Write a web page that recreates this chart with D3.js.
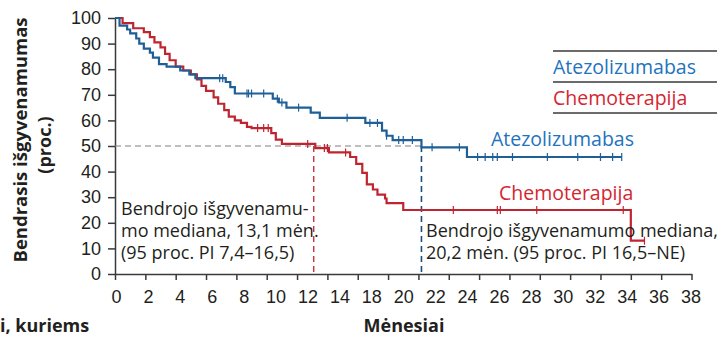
<!DOCTYPE html>
<html>
<head>
<meta charset="utf-8">
<script src="https://cdn.jsdelivr.net/npm/d3@7"></script>
<style>
	body{margin:0;background:#fff;}
	svg{display:block;font-family:"Open Sans",sans-serif;}
	.axis text{font-size:18px;fill:#231f20;}
	.axis line,.axis path{stroke:#3a3a3a;stroke-width:1.5;}
</style>
</head>
<body>
<svg id="chart" width="717" height="338"></svg>
<script>
/** survival steps : month where the curve drops and the new value (proc.) */
var atezoMonths = [0,0.3,0.8,1.0,1.4,1.6,1.9,2.3,2.5,2.9,3.4,4.3,4.9,5.3,7.3,7.6,7.9,10.4,10.8,11.3,12.9,13.5,16.5,17.6,17.9,18.3,20.2,23.2];
var atezoValues = [100,97,95.5,94,92,90,88,86.5,84.5,82,81,79.5,78,76.5,75,73,70.5,68.5,67,65,63,61,59,56,54,52.3,49.5,45.7];
var atezoEnd = 33.4;
var atezoCensored = [6.9,7.1,8.7,8.8,9.0,9.8,10.7,11.0,12.1,15.3,16.8,17.3,17.9,18.7,19.0,19.6,20.9,22.7,23.9,24.4,24.9,25.2,26.2,28.5,30.5,32.0,32.8,33.4];

var chemoMonths = [0,0.5,1.2,1.9,2.3,2.6,3.0,3.3,3.6,4.0,4.5,5.0,5.4,5.7,6.0,6.5,6.8,7.2,7.5,7.9,8.3,8.7,9.0,10.3,10.6,11.0,13.2,14.1,15.5,15.9,16.3,16.6,17.0,17.3,17.8,17.9,19.0,34.0];
var chemoValues = [100,98,96,94.5,92.5,90.5,88.5,86,83.5,81,79.5,78,76,73.5,71.5,69,66.5,64,61.5,60,59,57.5,57,55,52.5,50.8,49.2,47.5,45.7,43,39.5,35,33,31,29.5,27.7,25,13];
var chemoEnd = 34.9;
var chemoCensored = [9.4,9.8,10.1,12.7,13.8,14.0,15.2,22.3,25.2,25.4,27.8,33.5,34.9];

/** medians (months) */
var atezoMedian = 20.2;
var chemoMedian = 13.1;

/** axis ticks */
var yTicks = d3.range(0,101,10);
var xTicks = d3.range(0,39,2);
var xTickLabels = ["0","2","4","6","8","10","12","14","18","20","22","24","26","28","30","32","34","36","38"];

var atezoName = "Atezolizumabas";
var chemoName = "Chemoterapija";
var atezoNote = ["Bendrojo išgyvenamumo mediana,","20,2 mėn. (95 proc. PI 16,5–NE)"];
var chemoNote = ["Bendrojo išgyvenamu-","mo mediana, 13,1 mėn.","(95 proc. PI 7,4–16,5)"];

var blueLine = "#1f5f97", redLine = "#bf2530";
var blueText = "#2273bd", redText = "#d42631";
var ink = "#231f20";

var svg = d3.select("#chart");
var x = d3.scaleLinear().domain([0,38]).range([115,691.5]);
var y = d3.scaleLinear().domain([0,100]).range([274,18]);

/** value of a step curve at a given month */
function stepValue(months,values,t){
	var i = d3.bisectRight(months,t) - 1;
	return values[Math.max(i,0)];
}

/** axes */
svg.append("g")
	.attr("class","axis")
	.attr("transform","translate(" + x(0) + ",0)")
	.call(d3.axisLeft(y).tickValues(yTicks).tickSize(7).tickPadding(7).tickSizeOuter(0));

svg.append("g")
	.attr("class","axis")
	.attr("transform","translate(0," + y(0) + ")")
	.call(d3.axisBottom(x).tickValues(xTicks).tickSize(6).tickSizeOuter(0).tickFormat(""));

// the labels of the month axis are not aligned on the ticks (16 is missing)
var xLabelScale = d3.scalePoint().domain(xTickLabels).range([x(0)+1,x(38)-1]);
var xLabels = svg.append("g")
	.attr("class","axis")
	.attr("transform","translate(0," + y(0) + ")")
	.call(d3.axisBottom(xLabelScale).tickSize(0).tickPadding(16));
xLabels.select(".domain").remove();

/** median reference lines */
svg.append("line")
	.attr("x1",x(0)).attr("x2",x(atezoMedian))
	.attr("y1",y(50)).attr("y2",y(50))
	.attr("stroke","#808080").attr("stroke-width",1.2).attr("stroke-dasharray","6,4");
svg.append("line")
	.attr("x1",x(chemoMedian)).attr("x2",x(chemoMedian))
	.attr("y1",y(50)).attr("y2",y(0))
	.attr("stroke",redLine).attr("stroke-width",1.3).attr("stroke-dasharray","6,4");
svg.append("line")
	.attr("x1",x(atezoMedian)).attr("x2",x(atezoMedian))
	.attr("y1",y(50)).attr("y2",y(0))
	.attr("stroke","#1b4f7e").attr("stroke-width",1.6).attr("stroke-dasharray","6,4");

/** km curves */
var stepLine = d3.line()
	.x(function(d){return x(d[0]);})
	.y(function(d){return y(d[1]);})
	.curve(d3.curveStepAfter);

function drawCurve(months,values,end,censored,color){
	var pts = months.map(function(m,i){return [m,values[i]];});
	pts.push([end,values[values.length-1]]);
	svg.append("path")
		.datum(pts)
		.attr("d",stepLine)
		.attr("fill","none")
		.attr("stroke",color)
		.attr("stroke-width",2.2);
	svg.append("g").selectAll("line")
		.data(censored)
		.join("line")
		.attr("x1",function(d){return x(d);})
		.attr("x2",function(d){return x(d);})
		.attr("y1",function(d){return y(stepValue(months,values,d)) - 4;})
		.attr("y2",function(d){return y(stepValue(months,values,d)) + 4;})
		.attr("stroke",color)
		.attr("stroke-width",1.2);
}
drawCurve(chemoMonths,chemoValues,chemoEnd,chemoCensored,redLine);
drawCurve(atezoMonths,atezoValues,atezoEnd,atezoCensored,blueLine);

/** legend */
[51,82,113].forEach(function(ly){
	svg.append("line").attr("x1",553).attr("x2",717).attr("y1",ly).attr("y2",ly)
		.attr("stroke","#3a3a3a").attr("stroke-width",1.5);
});
svg.append("text").attr("x",553).attr("y",74).attr("font-size",19.5).attr("fill",blueText).text(atezoName);
svg.append("text").attr("x",553).attr("y",105).attr("font-size",19.5).attr("fill",redText).text(chemoName);

/** curve labels */
svg.append("text").attr("x",491).attr("y",146).attr("font-size",19.5).attr("fill",blueText).text(atezoName);
svg.append("text").attr("x",499).attr("y",200).attr("font-size",19.5).attr("fill",redText).text(chemoName);

/** median notes */
chemoNote.forEach(function(t,i){
	svg.append("text").attr("x",121).attr("y",215 + i*22).attr("font-size",18).attr("fill",ink).text(t);
});
atezoNote.forEach(function(t,i){
	svg.append("text").attr("x",426).attr("y",237 + i*22).attr("font-size",18).attr("fill",ink).text(t);
});

/** axis titles */
svg.append("text").attr("x",404).attr("y",332).attr("text-anchor","middle")
	.attr("font-size",18).attr("font-weight","bold").attr("fill",ink).text("Mėnesiai");
svg.append("text").attr("x",0).attr("y",332)
	.attr("font-size",18).attr("font-weight","bold").attr("fill",ink).text("i, kuriems");
svg.append("text").attr("transform","translate(27,140) rotate(-90)").attr("text-anchor","middle")
	.attr("font-size",18.5).attr("font-weight","bold").attr("fill",ink).text("Bendrasis išgyvenamumas");
svg.append("text").attr("transform","translate(51,145) rotate(-90)").attr("text-anchor","middle")
	.attr("font-size",18).attr("font-weight","bold").attr("fill",ink).text("(proc.)");
</script>
</body>
</html>
